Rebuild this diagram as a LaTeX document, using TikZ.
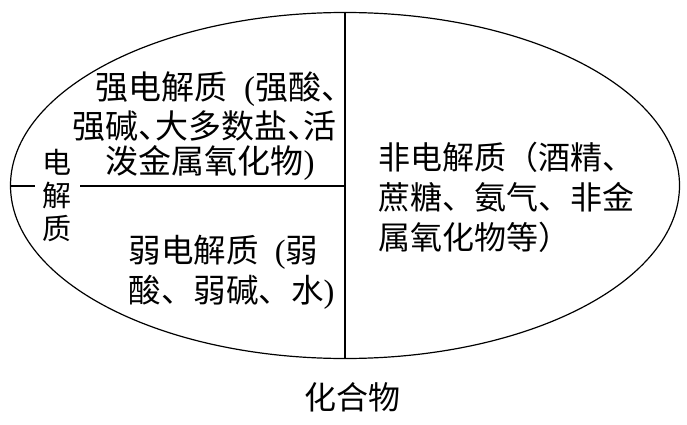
\documentclass[tikz,border=0pt]{standalone}
\usepackage{fontspec}
\setmainfont{Liberation Serif}
\newfontfamily\cjk{Noto Sans CJK SC}
\newfontfamily\lat{Liberation Serif}
\usetikzlibrary{shapes.geometric}
\newcommand{\halfdun}{\makebox[0.5em][l]{、}}
\begin{document}
\begin{tikzpicture}[x=1pt,y=-1pt, line width=1.2pt,
  txt/.style={anchor=west, inner sep=0pt, font=\cjk\fontsize{#1}{#1}\selectfont},
  txt/.default=32]
\useasboundingbox (0,0) rectangle (687,425);
\node[draw, ellipse, minimum width=669pt, minimum height=346pt, inner sep=0pt] (comp) at (345,185.5) {};
\coordinate (tickend) at (35,186);
\coordinate (lstart) at (80,186);
\draw (comp.north) -- (comp.south);
\draw (comp.west |- tickend) -- (tickend);
\draw (lstart) -- (comp.north |- lstart);
% upper left
\node[txt=33] (s1) at (95,89) {强电解质{\lat\ \ (}强酸、};
\node[txt=33] (s2) at (72,126) {强碱\halfdun 大多数盐\halfdun 活};
\node[txt=33] (s3) at (105,163) {泼金属氧化物{\lat )}};
% lower left
\node[txt=32.5] (w1) at (128,252) {弱电解质{\lat\ \ (}弱};
\node[txt=32.5] (w2) at (128,292) {酸、弱碱、水{\lat )}};
% right
\node[txt=32] (n1) at (378,157) {非电解质（酒精、};
\node[txt=32] (n2) at (378,197) {蔗糖、氨气、非金};
\node[txt=32] (n3) at (378,237) {属氧化物等）};
% vertical label
\node[inner sep=0pt, align=center, font=\cjk\fontsize{29}{33}\selectfont] (dj) at (57,195) {电\\解\\质};
% bottom label
\node[inner sep=0pt, font=\cjk\fontsize{32}{32}\selectfont] (hhw) at (352,397) {化合物};
\end{tikzpicture}
\end{document}
